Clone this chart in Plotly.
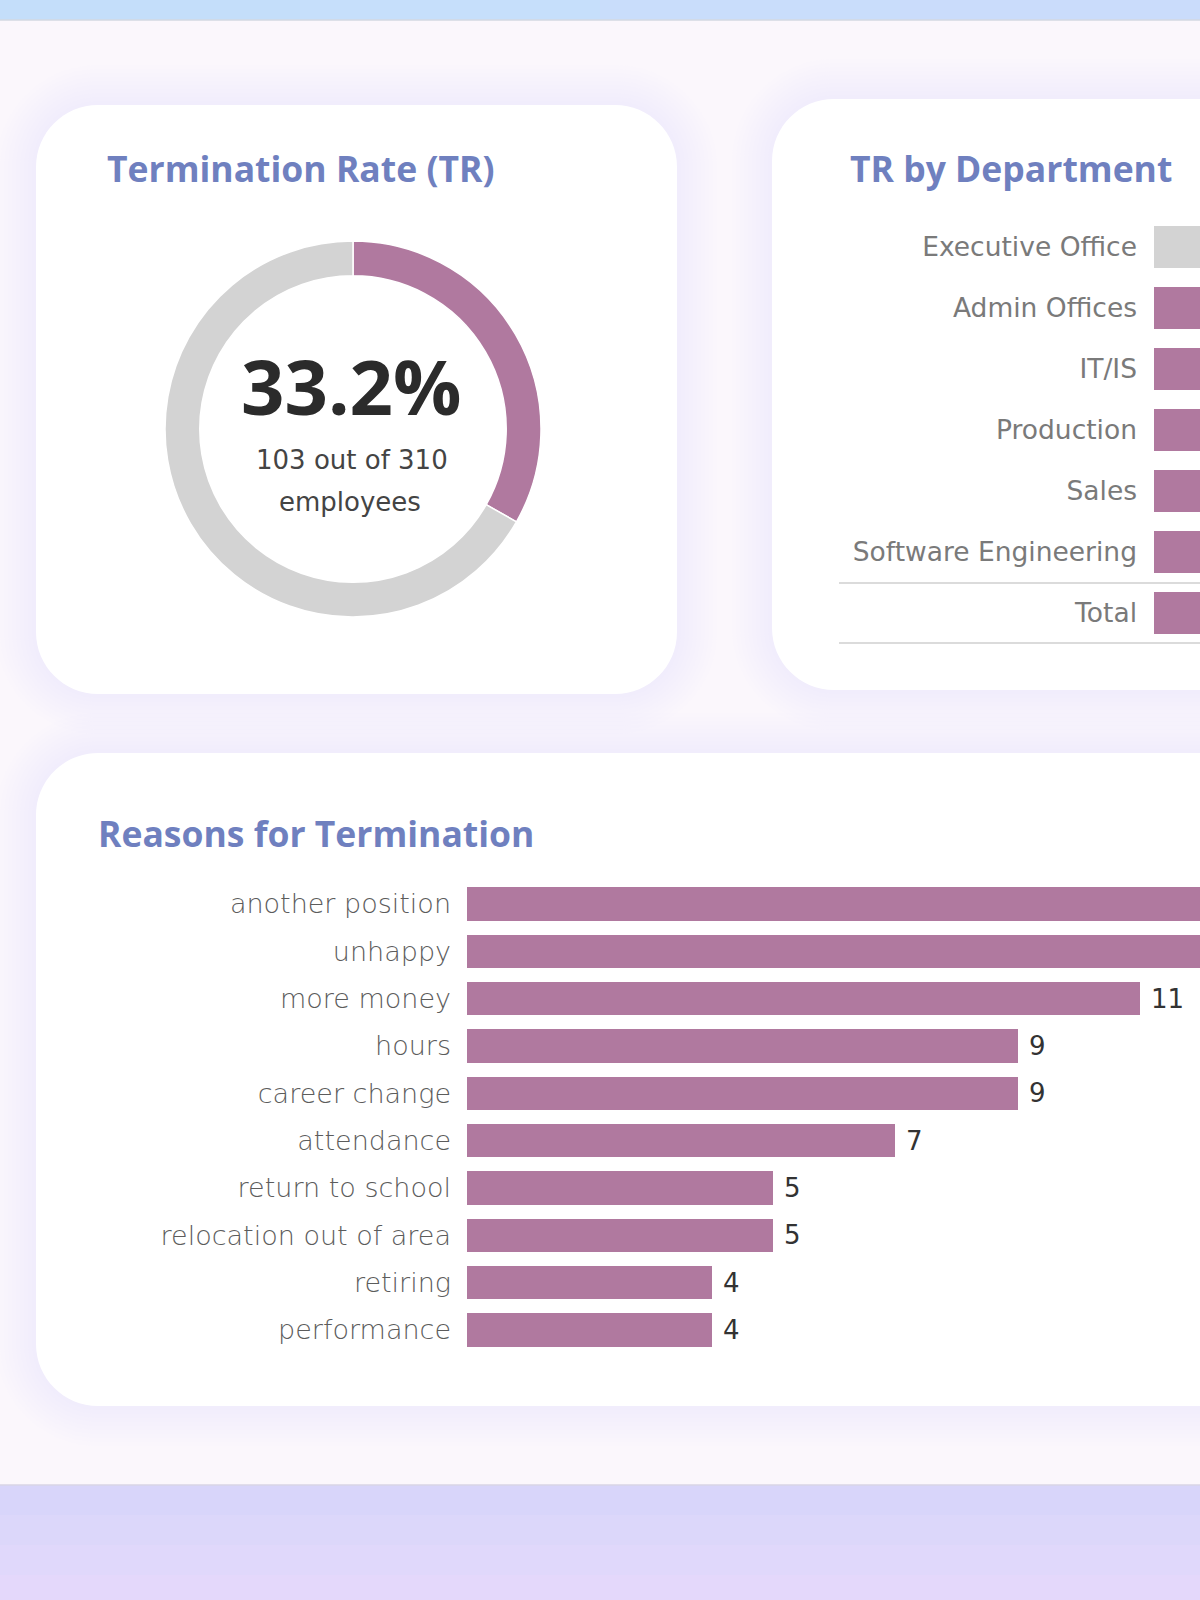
import plotly.graph_objects as go

# ---------------- data ----------------
tr_labels = ["Terminated", "Active"]
tr_values = [103, 207]
tr_rate_text = "33.2%"
tr_sub_line1 = "103 out of 310"
tr_sub_line2 = "employees"

departments = ["Executive Office", "Admin Offices", "IT/IS", "Production",
               "Sales", "Software Engineering", "Total"]
dept_tr = [0.0, 0.222, 0.200, 0.399, 0.161, 0.364, 0.332]
dept_rest = [1 - v for v in dept_tr]

reasons = ["another position", "unhappy", "more money", "hours", "career change",
           "attendance", "return to school", "relocation out of area",
           "retiring", "performance"]
reason_counts = [20, 14, 11, 9, 9, 7, 5, 5, 4, 4]

# ---------------- helpers ----------------
W, H = 1200, 1600
PURPLE = "#b0799f"
GREY = "#d3d3d3"
TITLE = "#6f80bf"


def X(px):
    return px / W


def Y(py):
    return 1 - py / H


def rrect(x0, y0, x1, y1, r):
    k = 0.5523 * r
    pts = [
        f"M {X(x0 + r)},{Y(y0)}",
        f"L {X(x1 - r)},{Y(y0)}",
        f"C {X(x1 - r + k)},{Y(y0)} {X(x1)},{Y(y0 + r - k)} {X(x1)},{Y(y0 + r)}",
        f"L {X(x1)},{Y(y1 - r)}",
        f"C {X(x1)},{Y(y1 - r + k)} {X(x1 - r + k)},{Y(y1)} {X(x1 - r)},{Y(y1)}",
        f"L {X(x0 + r)},{Y(y1)}",
        f"C {X(x0 + r - k)},{Y(y1)} {X(x0)},{Y(y1 - r + k)} {X(x0)},{Y(y1 - r)}",
        f"L {X(x0)},{Y(y0 + r)}",
        f"C {X(x0)},{Y(y0 + r - k)} {X(x0 + r - k)},{Y(y0)} {X(x0 + r)},{Y(y0)}",
        "Z",
    ]
    return " ".join(pts)


shapes = []
# top and bottom bands
band_top = ["#c4defa", "#c6dffb", "#c9ddfb", "#cadcfb"]
for i, c in enumerate(band_top):
    shapes.append(dict(type="rect", xref="paper", yref="paper", layer="below",
                       x0=X(i * 300), x1=X((i + 1) * 300), y0=Y(20), y1=Y(0),
                       fillcolor=c, line=dict(width=0)))
shapes.append(dict(type="line", xref="paper", yref="paper", layer="below",
                   x0=0, x1=1, y0=Y(20), y1=Y(20), line=dict(color="#d3d8e2", width=1.5)))
band_bot = [("#d8d5fa", 1485, 1515), ("#dcd7fa", 1515, 1545), ("#e0d8fb", 1545, 1575),
            ("#e4d8fb", 1575, 1600)]
for c, a, b in band_bot:
    shapes.append(dict(type="rect", xref="paper", yref="paper", layer="below",
                       x0=0, x1=1, y0=Y(b), y1=Y(a),
                       fillcolor=c, line=dict(width=0)))
shapes.append(dict(type="line", xref="paper", yref="paper", layer="below",
                   x0=0, x1=1, y0=Y(1485), y1=Y(1485), line=dict(color="#d8d4e6", width=1.5)))

cards = [(36, 105, 677, 694, 62), (772, 99, 1320, 690, 62), (36, 753, 1320, 1406, 62)]
for (x0, y0, x1, y1, r) in cards:
    for i in range(10, 0, -1):
        e = 4 * i
        shapes.append(dict(type="path", xref="paper", yref="paper", layer="below",
                           path=rrect(x0 - e, y0 - e, x1 + e, y1 + e, r + e),
                           fillcolor="rgba(190,180,238,0.018)", line=dict(width=0)))
for (x0, y0, x1, y1, r) in cards:
    shapes.append(dict(type="path", xref="paper", yref="paper", layer="below",
                       path=rrect(x0, y0, x1, y1, r),
                       fillcolor="#ffffff", line=dict(width=0)))

# department separators
for yy in (583, 643):
    shapes.append(dict(type="line", xref="paper", yref="paper", layer="above",
                       x0=X(839), x1=1, y0=Y(yy), y1=Y(yy),
                       line=dict(color="#cfcfcf", width=1.5)))

fig = go.Figure()

# donut
CX, CY, R = 353, 429, 188
fig.add_trace(go.Pie(
    labels=tr_labels, values=tr_values, hole=0.815, sort=False,
    direction="clockwise", rotation=0,
    marker=dict(colors=[PURPLE, GREY], line=dict(color="#ffffff", width=1.5)),
    textinfo="none", hoverinfo="label+value", showlegend=False,
    domain=dict(x=[X(CX - R), X(CX + R)], y=[Y(CY + R), Y(CY - R)]),
))

# department bars (100% stacked)
fig.add_trace(go.Bar(
    y=departments, x=dept_tr, orientation="h", marker=dict(color=PURPLE, line=dict(width=0)),
    xaxis="x2", yaxis="y2", showlegend=False, hoverinfo="y+x",
))
fig.add_trace(go.Bar(
    y=departments, x=dept_rest, orientation="h", marker=dict(color=GREY, line=dict(width=0)),
    xaxis="x2", yaxis="y2", showlegend=False, hoverinfo="y+x",
))

# reasons bars
fig.add_trace(go.Bar(
    y=reasons, x=reason_counts, orientation="h", marker=dict(color=PURPLE, line=dict(width=0)),
    xaxis="x3", yaxis="y3", showlegend=False, hoverinfo="y+x",
))

LABEL_FAMILY = "DejaVu Sans"
TITLE_FONT = dict(family="Open Sans", size=35.5, color=TITLE, weight="bold")

annotations = [
    dict(text="Termination Rate (TR)", x=X(105), y=Y(168), xref="paper", yref="paper",
         xanchor="left", yanchor="middle", showarrow=False, font=TITLE_FONT),
    dict(text="TR by Department", x=X(848), y=Y(168), xref="paper", yref="paper",
         xanchor="left", yanchor="middle", showarrow=False, font=TITLE_FONT),
    dict(text="Reasons for Termination", x=X(96), y=Y(833), xref="paper", yref="paper",
         xanchor="left", yanchor="middle", showarrow=False, font=TITLE_FONT),
    dict(text=tr_rate_text, x=X(351), y=Y(386), xref="paper", yref="paper",
         xanchor="center", yanchor="middle", showarrow=False,
         font=dict(family="Open Sans", size=76, color="#2b2b2b", weight="bold")),
    dict(text=tr_sub_line1, x=X(352), y=Y(460), xref="paper", yref="paper",
         xanchor="center", yanchor="middle", showarrow=False,
         font=dict(family=LABEL_FAMILY, size=26, color="#444444")),
    dict(text=tr_sub_line2, x=X(350), y=Y(502), xref="paper", yref="paper",
         xanchor="center", yanchor="middle", showarrow=False,
         font=dict(family=LABEL_FAMILY, size=26, color="#444444")),
]

# value labels next to the reason bars
for name, val in zip(reasons, reason_counts):
    annotations.append(dict(
        text=str(val), x=val, y=name, xref="x3", yref="y3",
        xanchor="left", yanchor="middle", xshift=9, showarrow=False,
        font=dict(family=LABEL_FAMILY, size=26, color="#333333"),
    ))

fig.update_layout(annotations=annotations)

fig.update_layout(
    width=W, height=H, margin=dict(l=0, r=0, t=0, b=0),
    paper_bgcolor="#fbf7fc", plot_bgcolor="rgba(0,0,0,0)",
    barmode="stack", bargap=0.3,
    shapes=shapes,
    xaxis2=dict(domain=[X(1154), 1], range=[0, 0.115], visible=False, fixedrange=True),
    yaxis2=dict(domain=[Y(643.5), Y(216.5)], anchor="x2", type="category",
                categoryorder="array", categoryarray=departments, range=[6.5, -0.5],
                showgrid=False, zeroline=False, showline=False, ticks="",
                ticklabelstandoff=16,
                tickfont=dict(family=LABEL_FAMILY, size=26.5, color="#7a7a7a")),
    xaxis3=dict(domain=[X(467), 1], range=[0, (1200 - 467) / 61.2], visible=False, fixedrange=True),
    yaxis3=dict(domain=[Y(1353.7), Y(880.3)], anchor="x3", type="category",
                categoryorder="array", categoryarray=reasons, range=[9.5, -0.5],
                showgrid=False, zeroline=False, showline=False, ticks="",
                ticklabelstandoff=15,
                tickfont=dict(family=LABEL_FAMILY, size=27, color="#5c5c5c", weight=300)),
)

fig.write_html("out.html")
